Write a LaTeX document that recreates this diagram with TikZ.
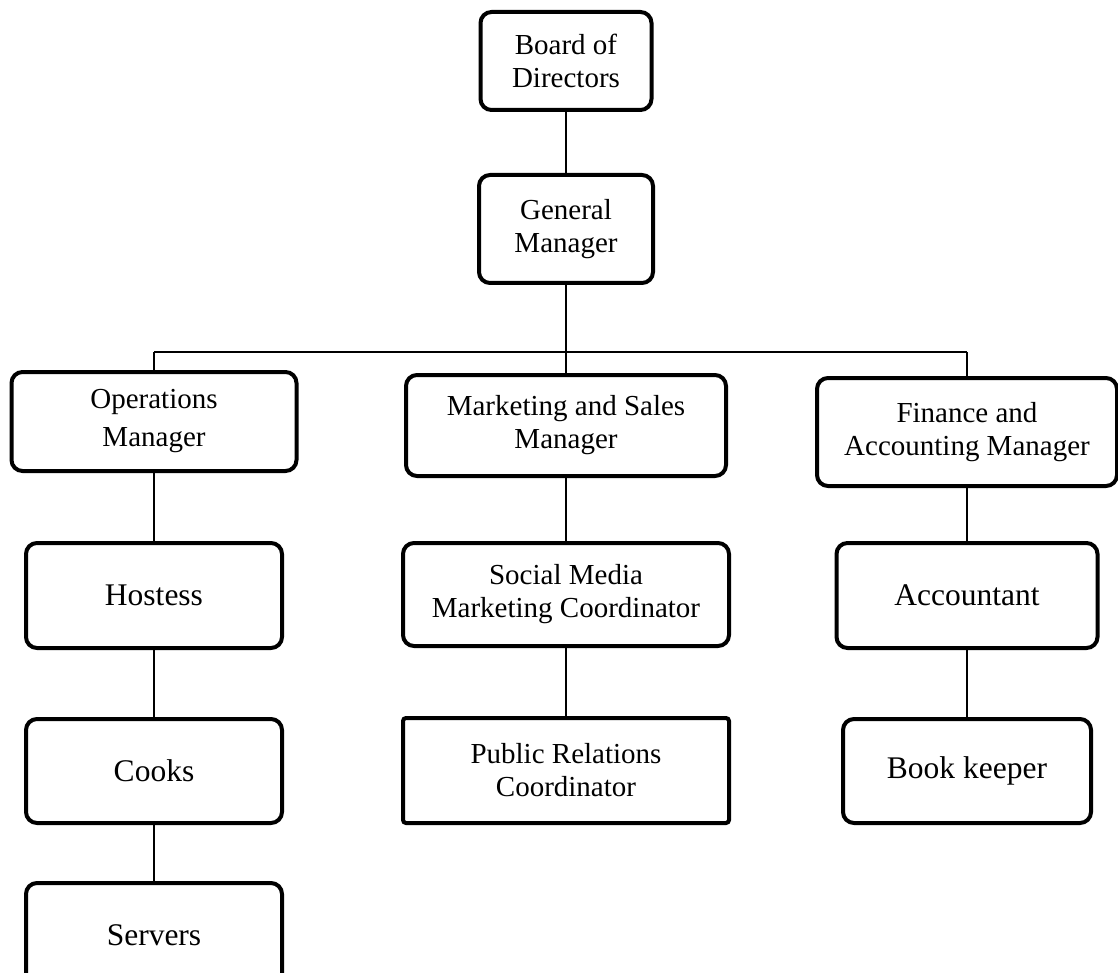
\documentclass[tikz,border=0pt]{standalone}
\usepackage{fontspec}
\setmainfont{Liberation Serif}
\begin{document}
\begin{tikzpicture}[x=1pt,y=-1pt,
  orgbox/.style={draw,line width=4pt,rounded corners=11pt,align=center,inner sep=0pt,font=\fontsize{29}{33}\selectfont},
  jobbox/.style={orgbox,font=\fontsize{31.5}{36}\selectfont},
  link/.style={line width=1.5pt}]
\useasboundingbox (0,0) rectangle (1118,973);
\node [orgbox,minimum width=171pt,minimum height=98pt] (board) at (566,61) {Board of\\Directors};
\node [orgbox,minimum width=174pt,minimum height=108pt] (gm) at (566,229) {General\\Manager};
\node [orgbox,minimum width=285pt,minimum height=99pt,font=\fontsize{29}{38}\selectfont] (ops) at (154,421.5) {Operations\\Manager};
\node [orgbox,minimum width=320pt,minimum height=101pt] (mkt) at (566,425.5) {Marketing and Sales\\Manager};
\node [orgbox,minimum width=300pt,minimum height=108pt] (fin) at (967,432) {Finance and\\Accounting Manager};
\node [jobbox,minimum width=256pt,minimum height=105pt] (hostess) at (154,595.5) {Hostess};
\node [orgbox,minimum width=326pt,minimum height=103pt] (social) at (566,594.5) {Social Media\\Marketing Coordinator};
\node [jobbox,minimum width=261pt,minimum height=105pt] (acc) at (967,595.5) {Accountant};
\node [jobbox,minimum width=256pt,minimum height=104pt] (cooks) at (154,771) {Cooks};
\node [orgbox,rounded corners=3pt,minimum width=326pt,minimum height=105pt] (pr) at (566,770.5) {Public Relations\\Coordinator};
\node [jobbox,minimum width=248pt,minimum height=104pt] (book) at (967,771) {Book keeper};
\node [jobbox,minimum width=256pt,minimum height=104pt] (servers) at (154,935) {Servers};
\coordinate (bar) at (566,352);
\coordinate (barleft) at (154,352);
\coordinate (barright) at (967,352);
\draw [link] (board) -- (gm);
\draw [link] (gm) -- (bar);
\draw [link] (barleft) -- (barright);
\draw [link] (barleft) -- (ops);
\draw [link] (bar) -- (mkt);
\draw [link] (barright) -- (fin);
\draw [link] (ops) -- (hostess);
\draw [link] (hostess) -- (cooks);
\draw [link] (cooks) -- (servers);
\draw [link] (mkt) -- (social);
\draw [link] (social) -- (pr);
\draw [link] (fin) -- (acc);
\draw [link] (acc) -- (book);
\end{tikzpicture}
\end{document}
